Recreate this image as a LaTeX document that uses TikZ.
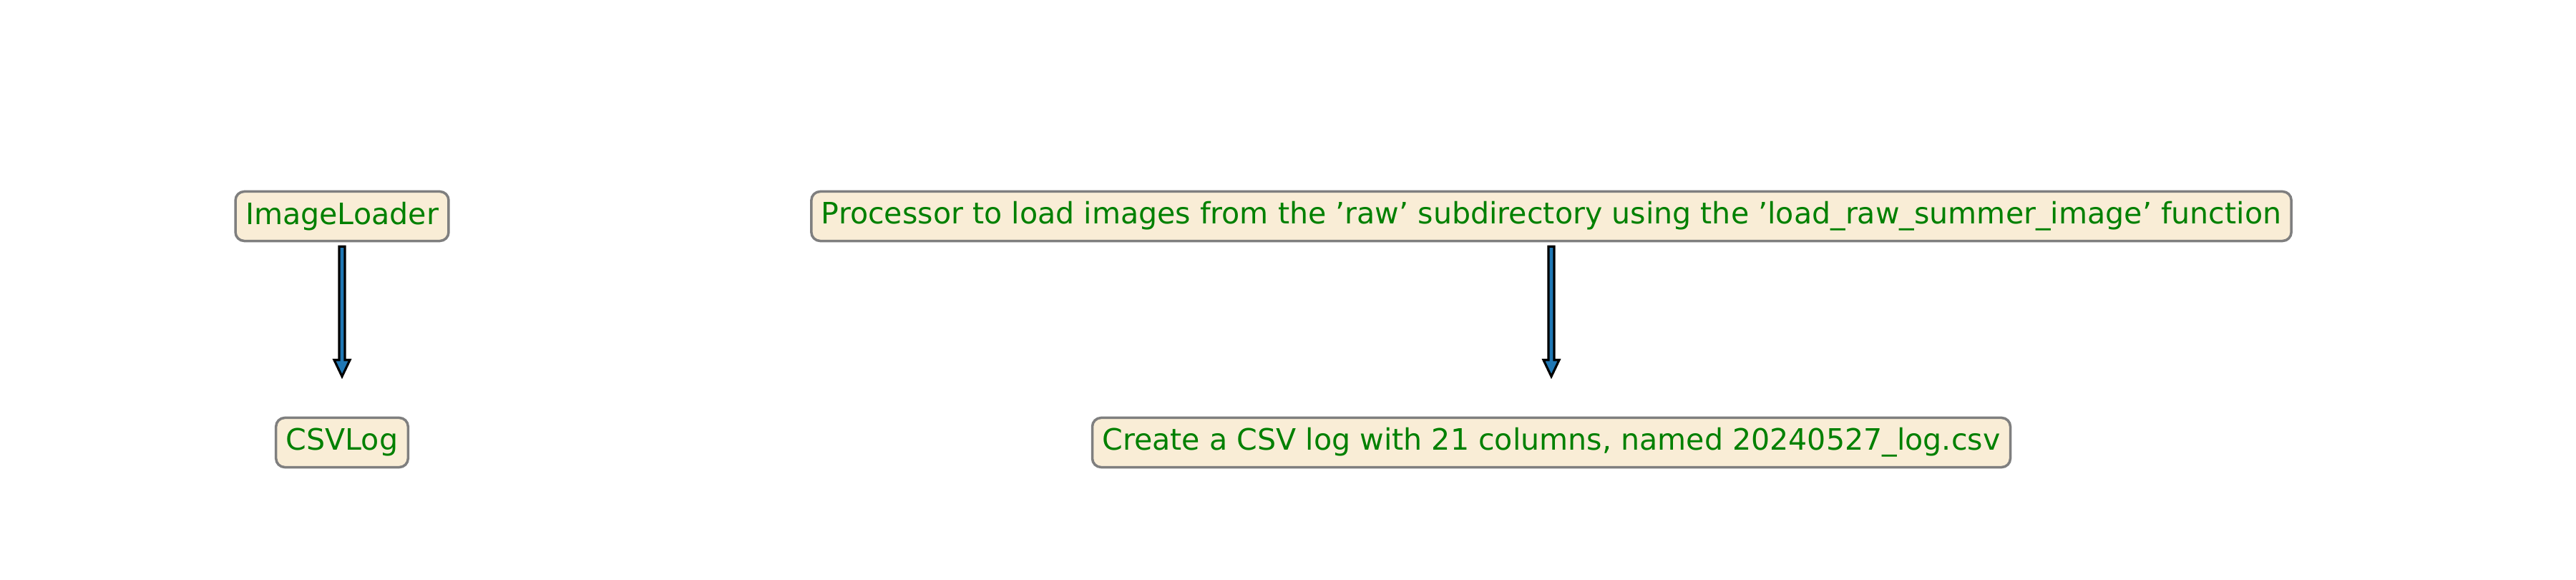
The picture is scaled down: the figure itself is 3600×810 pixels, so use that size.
\documentclass[tikz,border=0pt]{standalone}
\usepackage{fontspec}
\setmainfont{DejaVu Sans}
\usetikzlibrary{calc}
\definecolor{boxfill}{HTML}{F9EDD6}
\definecolor{boxline}{HTML}{7F7F7F}
\definecolor{textgreen}{HTML}{008000}
\definecolor{arrowblue}{HTML}{1F77B4}
% fat arrow from the bottom of one node towards the next
\newcommand{\fatarrow}[2]{%
\filldraw[fill=arrowblue, draw=black, line width=0.9pt, line join=miter]
  ($(#1.south)+(-4,6)$) -- ($(#1.south)+(4,6)$) -- ($(#2.north)+(4,-79)$)
  -- ($(#2.north)+(11,-79)$) -- ($(#2.north)+(0,-56)$) -- ($(#2.north)+(-11,-79)$)
  -- ($(#2.north)+(-4,-79)$) -- cycle;}
\begin{document}
\begin{tikzpicture}[x=0.01cm, y=-0.01cm,
% common options for the boxes:
stepbox/.style = {draw=boxline, fill=boxfill, line width=1pt, rounded corners=3.5pt,
            text=textgreen, font=\fontsize{11.7}{14}\selectfont,
            minimum height=0.69cm, inner xsep=4pt}]
\useasboundingbox (0,0) rectangle (3600,810);
\node[stepbox] (loader) at (478,302) {ImageLoader};
\node[stepbox] (csvlog) at (478,618) {CSVLog};
\node[stepbox] (procdesc) at (2168,302) {Processor to load images from the 'raw' subdirectory using the 'load\_raw\_summer\_image' function};
\node[stepbox] (logdesc) at (2168,618) {Create a CSV log with 21 columns, named 20240527\_log.csv};
\fatarrow{loader}{csvlog}
\fatarrow{procdesc}{logdesc}
\end{tikzpicture}
\end{document}
